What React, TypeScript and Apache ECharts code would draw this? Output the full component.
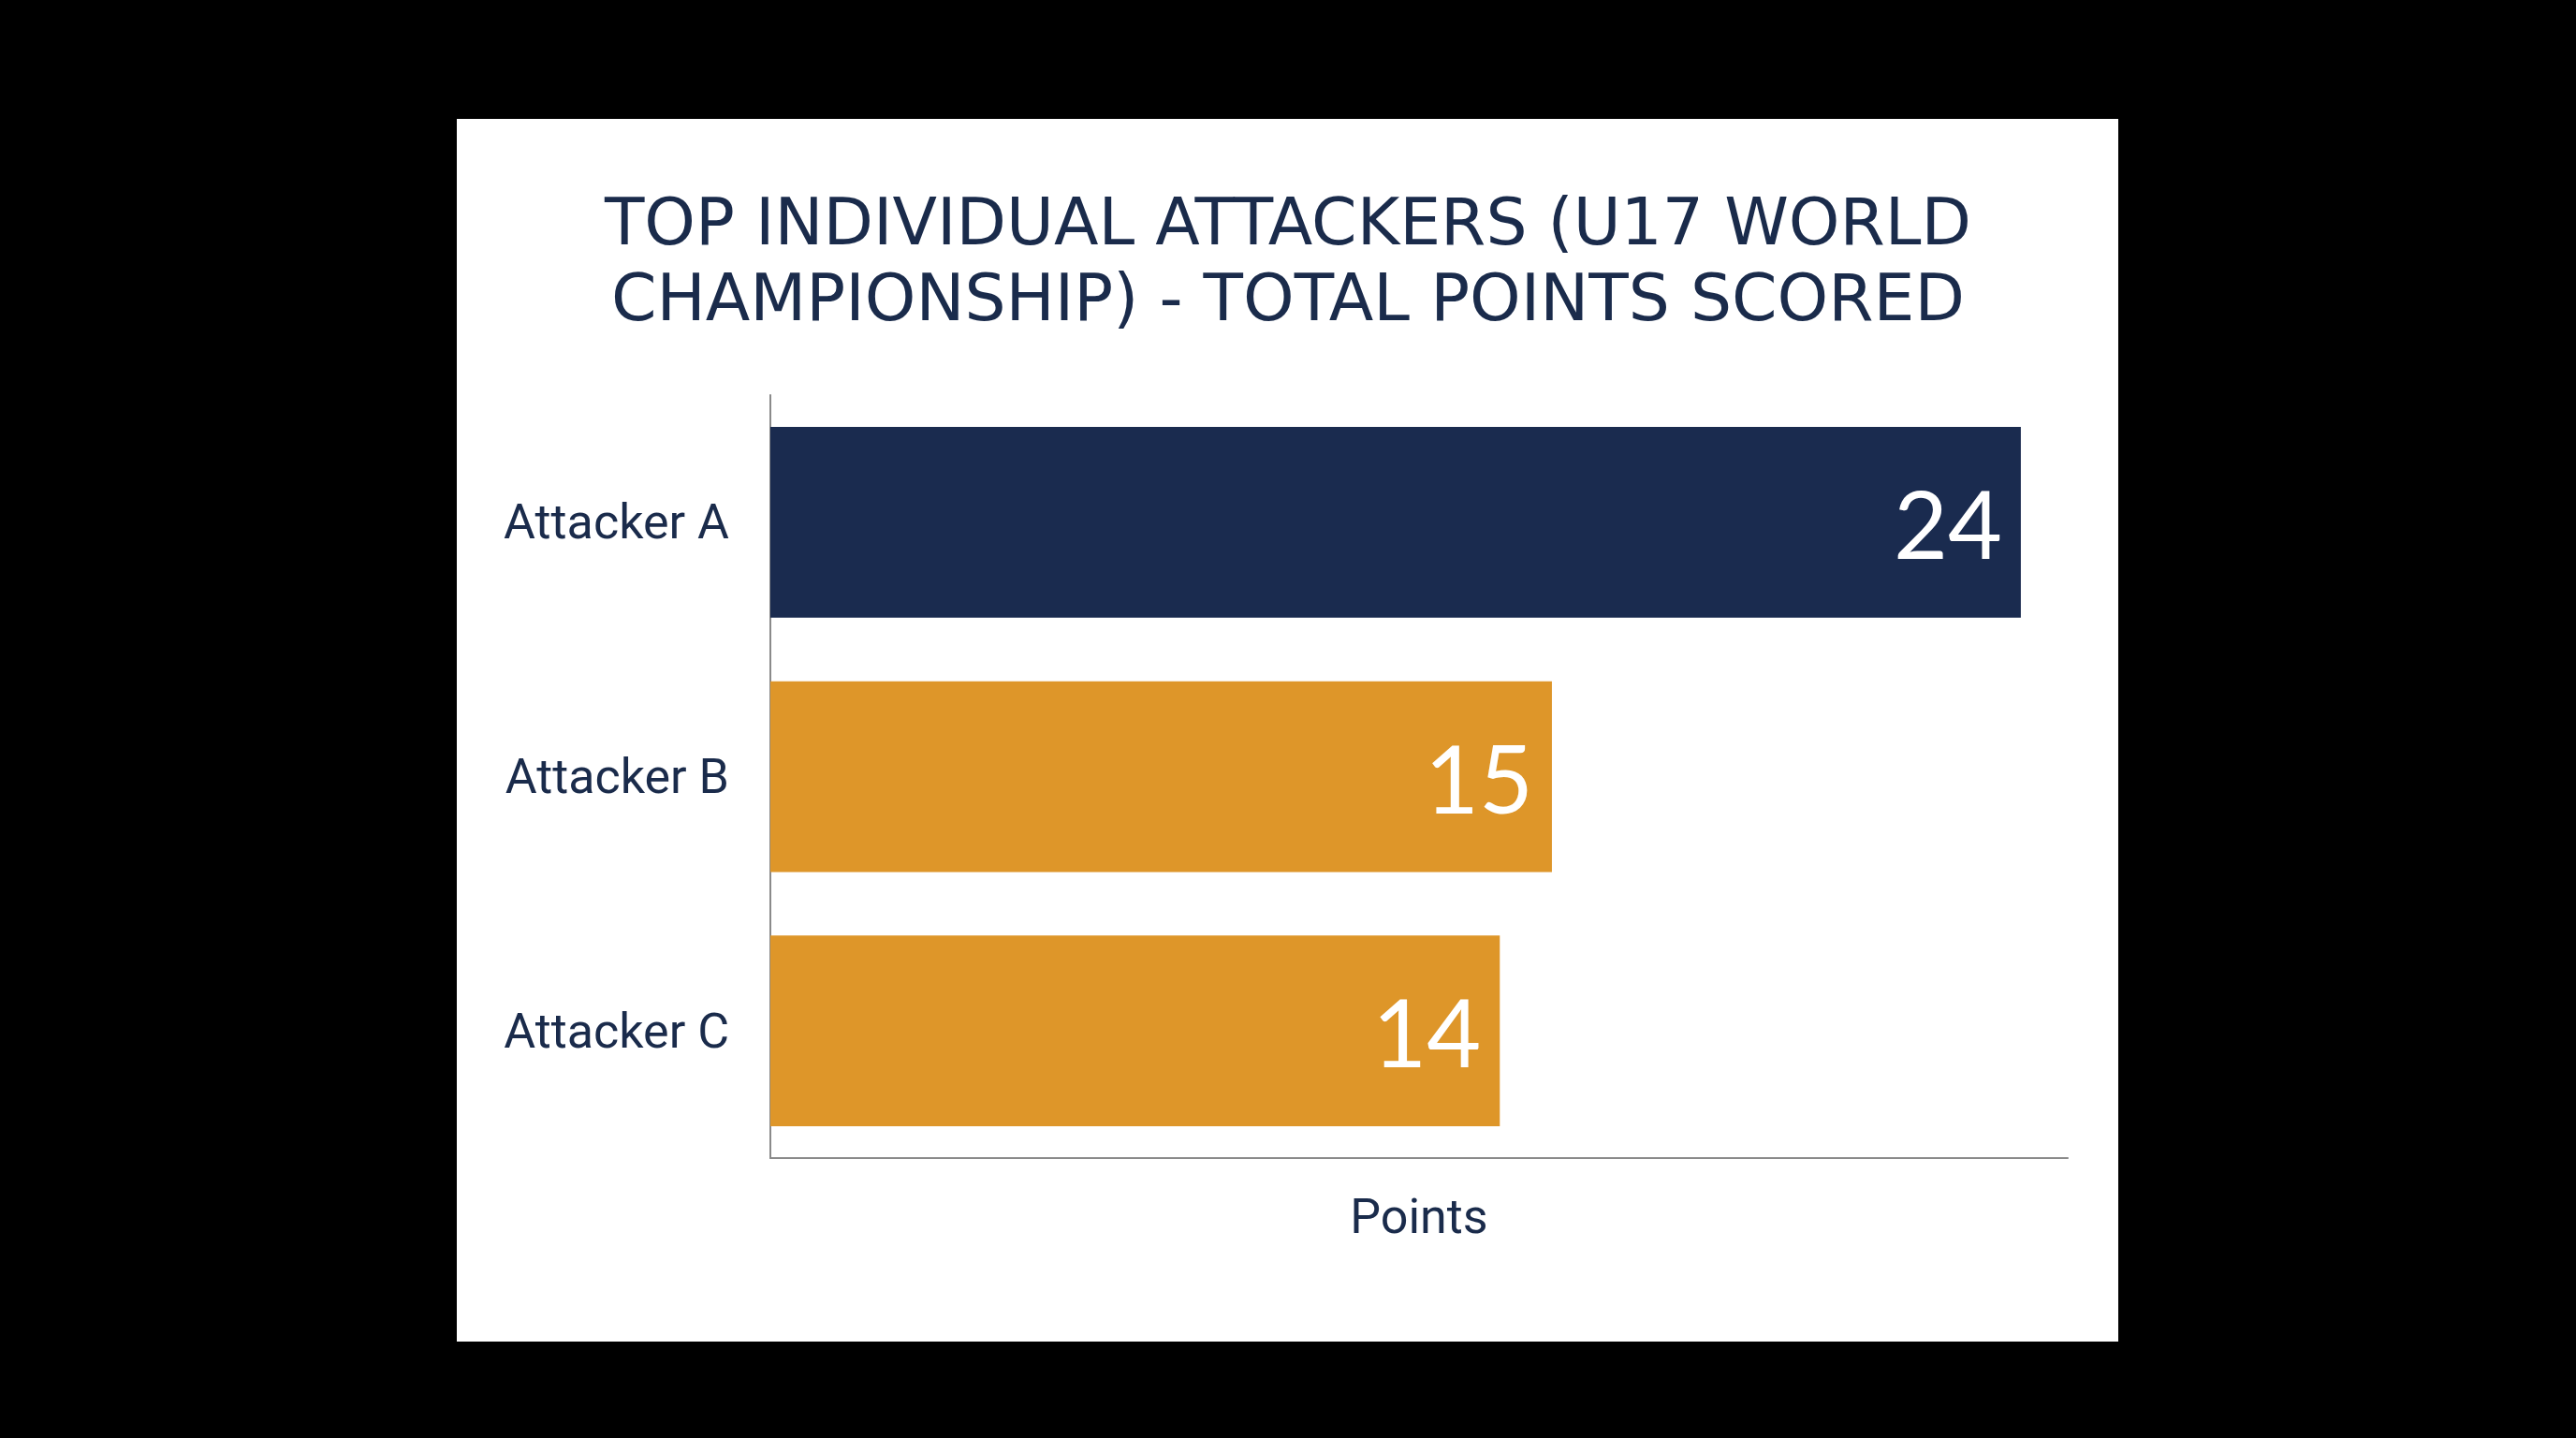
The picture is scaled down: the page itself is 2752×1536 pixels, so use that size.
import React, { useEffect, useRef } from "react";
import * as echarts from "echarts";

const categories = ["Attacker A", "Attacker B", "Attacker C"];
const points = [24, 15, 14];
const barColors = ["#1a2b4f", "#de9629", "#de9629"];
const titleLines = ["TOP INDIVIDUAL ATTACKERS (U17 WORLD", "CHAMPIONSHIP) - TOTAL POINTS SCORED"];
const xAxisName = "Points";

export default function App() {
  const ref = useRef<HTMLDivElement>(null);
  useEffect(() => {
    if (!ref.current) return;
    const chart = echarts.init(ref.current, undefined, { renderer: "svg" });
    chart.setOption({
      animation: false,
      backgroundColor: "#000000",
      graphic: [
        {
          type: "rect",
          z: -10,
          shape: { x: 488, y: 127, width: 1775, height: 1306 },
          style: { fill: "#ffffff" },
        },
      ],
      title: {
        text: titleLines.join("\n"),
        left: "center",
        top: 191,
        textStyle: {
          fontFamily: "DejaVu Sans",
          fontWeight: "normal",
          fontSize: 69.5,
          lineHeight: 81,
          color: "#1a2b4b",
        },
      },
      grid: { left: 823, right: 543, top: 422, bottom: 299, containLabel: false },
      xAxis: {
        type: "value",
        min: 0,
        max: 24.9,
        name: xAxisName,
        nameLocation: "middle",
        nameGap: 36,
        nameTextStyle: { fontFamily: "Roboto", fontSize: 52, color: "#1a2b4b" },
        axisLine: { show: true, lineStyle: { color: "#8a8a8a", width: 2 } },
        axisTick: { show: false },
        axisLabel: { show: false },
        splitLine: { show: false },
      },
      yAxis: {
        type: "category",
        data: categories,
        inverse: true,
        axisLine: { show: true, lineStyle: { color: "#8a8a8a", width: 2 } },
        axisTick: { show: false },
        axisLabel: { margin: 44, fontFamily: "Roboto", fontSize: 52, color: "#1a2b4b" },
        splitLine: { show: false },
      },
      series: [
        {
          type: "bar",
          barCategoryGap: "25%",
          data: points.map((v, i) => ({ value: v, itemStyle: { color: barColors[i] } })),
          label: {
            show: true,
            position: "insideRight",
            distance: 20,
            fontFamily: "Lato",
            fontSize: 100,
            color: "#ffffff",
          },
        },
      ],
    });
    return () => chart.dispose();
  }, []);
  return <div ref={ref} style={{ position: "fixed", left: 0, top: 0, width: 2752, height: 1536 }} />;
}
